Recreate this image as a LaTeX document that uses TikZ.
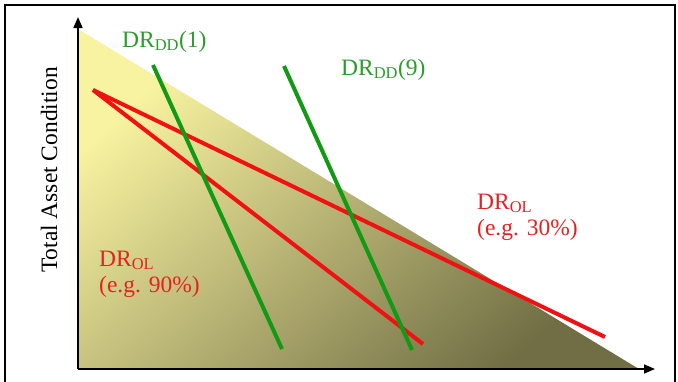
\documentclass[tikz,border=0pt]{standalone}
\usepackage{fontspec}
\setmainfont{Liberation Serif}
\usetikzlibrary{arrows.meta,positioning}
\definecolor{drgreen}{HTML}{139A14}
\definecolor{drred}{HTML}{F01212}
\definecolor{lblgreen}{HTML}{2C9C2C}
\definecolor{lblred}{HTML}{E42222}
\definecolor{condlight}{HTML}{F8F3A0}
\definecolor{condmid}{HTML}{B8B272}
\definecolor{conddark}{HTML}{716E45}
\tikzset{
    every node/.style={font=\fontsize{23.5}{26}\selectfont,inner sep=0pt},
    frame/.style={draw=black,line width=1.6pt},
    axis/.style={draw=black,line width=1.6pt,-{Triangle[length=11pt,width=9pt]}},
    condarea/.style={top color=condlight,middle color=condmid,bottom color=conddark,shading angle=42},
    ddline/.style={draw=drgreen,line width=4pt},
    olline/.style={draw=drred,line width=4pt},
    ddlabel/.style={text=lblgreen,anchor=base west},
    ollabel/.style={text=lblred,anchor=base west,align=left}
}
\begin{document}
\begin{tikzpicture}[x=1pt,y=-1pt]
\useasboundingbox (0,0) rectangle (678,381);
\draw[frame] (5,383) -- (5,5) -- (675,5) -- (675,383);

\coordinate (origin) at (78,369);
\coordinate (ytop) at (78,17);
\coordinate (xend) at (655,369);
\coordinate (condtop) at (78,29);
\coordinate (condend) at (639,369);

\shade[condarea] (condtop) -- (origin) -- (condend) -- cycle;

\coordinate (olstart) at (93,90);
\coordinate (ol30end) at (605,337);
\coordinate (ol90end) at (423,344);
\coordinate (dd1top) at (153,65);
\coordinate (dd1bot) at (282,349);
\coordinate (dd9top) at (284,66);
\coordinate (dd9bot) at (412,350);

\draw[olline] (olstart) -- (ol30end);
\draw[olline] (olstart) -- (ol90end);
\draw[ddline] (dd1top) -- (dd1bot);
\draw[ddline] (dd9top) -- (dd9bot);

\draw[axis] (origin) -- (ytop);
\draw[axis] (origin) -- (xend);

\node[rotate=90,anchor=base] (ylabel) at (57,170) {Total Asset Condition};
\node[ddlabel] (dd1label) at (122,47) {DR\textsubscript{DD}(1)};
\node[ddlabel] (dd9label) at (341,75) {DR\textsubscript{DD}(9)};
\node[ollabel] (ol90label) at (99,292) {DR\textsubscript{OL}\\(e.g. 90\%)};
\node[ollabel] (ol30label) at (477,235) {DR\textsubscript{OL}\\(e.g. 30\%)};
\end{tikzpicture}
\end{document}
